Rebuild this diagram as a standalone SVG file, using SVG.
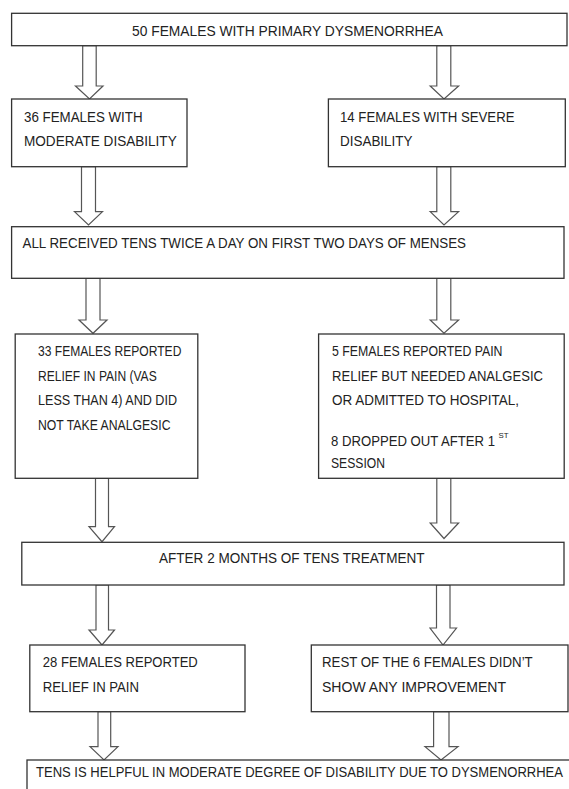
<svg xmlns="http://www.w3.org/2000/svg" width="569" height="789" viewBox="0 0 569 789">
<style>
.box{fill:#fff;stroke:#333;stroke-width:1.3}
.arr{fill:#fff;stroke:#555;stroke-width:1.2;stroke-linejoin:miter}
text{font-family:"Liberation Sans",Arial,sans-serif;font-size:14px;fill:#222}
.sup{font-size:8px}
</style>
<rect width="569" height="789" fill="#fff"/>
<g id="connectors">
<polygon class="arr" points="82.7,45.7 96.2,45.7 96.2,86 103,86 89.5,99 75.5,86 82.7,86"/>
<polygon class="arr" points="436.8,45.7 450.8,45.7 450.8,86 458.6,86 444,99 430.2,86 436.8,86"/>
<polygon class="arr" points="81.5,166.7 95.5,166.7 95.5,211.7 102.5,211.7 88.5,225 74.5,211.7 81.5,211.7"/>
<polygon class="arr" points="436.8,166.7 450.8,166.7 450.8,211.7 458.6,211.7 444,225 430.2,211.7 436.8,211.7"/>
<polygon class="arr" points="86,278.3 100,278.3 100,320 107,320 93,333.3 79,320 86,320"/>
<polygon class="arr" points="436.8,278.3 450.8,278.3 450.8,320 458.6,320 444,333.3 430.2,320 436.8,320"/>
<polygon class="arr" points="95.5,478.3 108.5,478.3 108.5,526.7 114.5,526.7 102,541.7 89,526.7 95.5,526.7"/>
<polygon class="arr" points="436.8,478.3 450.8,478.3 450.8,523 458.6,523 444,538.5 430.2,523 436.8,523"/>
<polygon class="arr" points="96,585 108.5,585 108.5,630 114.5,630 102,645 89,630 96,630"/>
<polygon class="arr" points="436.5,585 450,585 450,628 456.5,628 443,645 430,628 436.5,628"/>
<polygon class="arr" points="98,711.7 110.7,711.7 110.7,746.7 118,746.7 104,760 90,746.7 98,746.7"/>
<polygon class="arr" points="433.6,711.7 449,711.7 449,746.7 458,746.7 441,760 425,746.7 433.6,746.7"/>
</g>
<g id="n1">
<rect class="box" x="11.6" y="13.3" width="555.4" height="32.4"/>
<text x="132" y="35.5" textLength="311" lengthAdjust="spacingAndGlyphs">50 FEMALES WITH PRIMARY DYSMENORRHEA</text>
</g>
<g id="n2">
<rect class="box" x="11.6" y="99" width="175.4" height="67.7"/>
<text x="24" y="122.3" textLength="118.6" lengthAdjust="spacingAndGlyphs">36 FEMALES WITH</text>
<text x="24" y="145.7" textLength="152.7" lengthAdjust="spacingAndGlyphs">MODERATE DISABILITY</text>
</g>
<g id="n3">
<rect class="box" x="328.4" y="99" width="236.9" height="67.7"/>
<text x="340" y="122.3" textLength="174.5" lengthAdjust="spacingAndGlyphs">14 FEMALES WITH SEVERE</text>
<text x="340" y="145.7" textLength="72.5" lengthAdjust="spacingAndGlyphs">DISABILITY</text>
</g>
<g id="n4">
<rect class="box" x="11.6" y="226.7" width="552.4" height="51.6"/>
<text x="22.5" y="248.3" textLength="443.5" lengthAdjust="spacingAndGlyphs">ALL RECEIVED TENS TWICE A DAY ON FIRST TWO DAYS OF MENSES</text>
</g>
<g id="n5">
<rect class="box" x="15.2" y="334" width="182.6" height="144.3"/>
<text x="38" y="355.7" textLength="143.4" lengthAdjust="spacingAndGlyphs">33 FEMALES REPORTED</text>
<text x="38" y="380.7" textLength="118.7" lengthAdjust="spacingAndGlyphs">RELIEF IN PAIN (VAS</text>
<text x="38" y="405.2" textLength="139" lengthAdjust="spacingAndGlyphs">LESS THAN 4) AND DID</text>
<text x="38" y="430" textLength="132.5" lengthAdjust="spacingAndGlyphs">NOT TAKE ANALGESIC</text>
</g>
<g id="n6">
<rect class="box" x="318.6" y="334" width="245.6" height="144.3"/>
<text x="332" y="355.7" textLength="170.5" lengthAdjust="spacingAndGlyphs">5 FEMALES REPORTED PAIN</text>
<text x="332" y="380.7" textLength="211" lengthAdjust="spacingAndGlyphs">RELIEF BUT NEEDED ANALGESIC</text>
<text x="332" y="405.2" textLength="187" lengthAdjust="spacingAndGlyphs">OR ADMITTED TO HOSPITAL,</text>
<text x="331" y="445.5" textLength="164" lengthAdjust="spacingAndGlyphs">8 DROPPED OUT AFTER 1</text>
<text class="sup" x="498.5" y="437.5" textLength="10" lengthAdjust="spacingAndGlyphs">ST</text>
<text x="331" y="468.3" textLength="54" lengthAdjust="spacingAndGlyphs">SESSION</text>
</g>
<g id="n7">
<rect class="box" x="21.8" y="542.3" width="542.2" height="42.7"/>
<text x="159" y="563.3" textLength="265.5" lengthAdjust="spacingAndGlyphs">AFTER 2 MONTHS OF TENS TREATMENT</text>
</g>
<g id="n8">
<rect class="box" x="29.8" y="645" width="215.2" height="66.7"/>
<text x="42.8" y="666.7" textLength="155" lengthAdjust="spacingAndGlyphs">28 FEMALES REPORTED</text>
<text x="42.8" y="691.7" textLength="96.2" lengthAdjust="spacingAndGlyphs">RELIEF IN PAIN</text>
</g>
<g id="n9">
<rect class="box" x="311.3" y="645" width="256.7" height="66.7"/>
<text x="322" y="666.7" textLength="210.7" lengthAdjust="spacingAndGlyphs">REST OF THE 6 FEMALES DIDN’T</text>
<text x="322" y="691.7" textLength="184" lengthAdjust="spacingAndGlyphs">SHOW ANY IMPROVEMENT</text>
</g>
<g id="n10">
<rect class="box" x="27" y="760" width="560" height="40"/>
<text x="36" y="776.7" textLength="527" lengthAdjust="spacingAndGlyphs">TENS IS HELPFUL IN MODERATE DEGREE OF DISABILITY DUE TO DYSMENORRHEA</text>
</g>
</svg>
